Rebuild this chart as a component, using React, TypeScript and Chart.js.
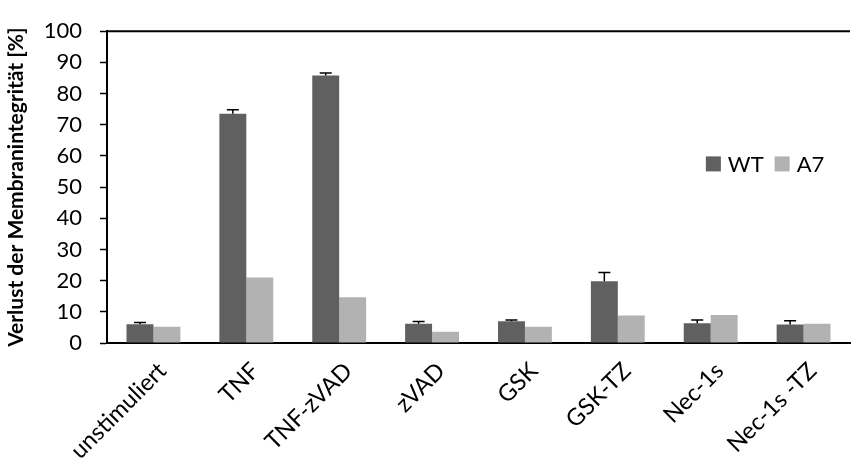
import React, { useEffect, useRef } from "react";
import { Chart, registerables } from "chart.js";

Chart.register(...registerables);

const categories = ["unstimuliert", "TNF", "TNF-zVAD", "zVAD", "GSK", "GSK-TZ", "Nec-1s", "Nec-1s -TZ"];
const wtValues = [6.0, 73.5, 85.8, 6.2, 7.0, 19.8, 6.3, 5.9];
const wtErrors = [0.6, 1.3, 0.8, 0.7, 0.4, 2.8, 1.1, 1.2];
const a7Values = [5.2, 21.0, 14.7, 3.6, 5.2, 8.8, 9.0, 6.2];
const seriesLabels = ["WT", "A7"];
const seriesColors = ["#606060", "#b2b2b2"];
const yTicks = [0, 10, 20, 30, 40, 50, 60, 70, 80, 90, 100];

const FONT = "Lato, 'Open Sans', sans-serif";

const errorBarPlugin = {
  id: "errorBars",
  afterDatasetsDraw(chart: any) {
    const ctx = chart.ctx;
    const meta = chart.getDatasetMeta(0);
    const y = chart.scales.y;
    ctx.save();
    ctx.strokeStyle = "#000";
    ctx.lineWidth = 1.5;
    meta.data.forEach((bar: any, i: number) => {
      const top = y.getPixelForValue(wtValues[i] + wtErrors[i]);
      ctx.beginPath();
      ctx.moveTo(bar.x, bar.y);
      ctx.lineTo(bar.x, top);
      ctx.moveTo(bar.x - 6, top);
      ctx.lineTo(bar.x + 6, top);
      ctx.stroke();
    });
    ctx.restore();
  },
};

const frameLegendPlugin = {
  id: "frameLegend",
  afterDraw(chart: any) {
    const ctx = chart.ctx;
    const a = chart.chartArea;
    ctx.save();
    // top border
    ctx.strokeStyle = "#000";
    ctx.lineWidth = 2;
    ctx.beginPath();
    ctx.moveTo(a.left - 1, a.top);
    ctx.lineTo(a.right, a.top);
    ctx.stroke();
    // legend
    const lx = a.left + 0.806 * (a.right - a.left);
    const ly = a.top + 0.4256 * (a.bottom - a.top);
    ctx.font = `22px ${FONT}`;
    ctx.textBaseline = "middle";
    ctx.textAlign = "left";
    let x = lx;
    chart.data.datasets.forEach((ds: any) => {
      ctx.fillStyle = ds.backgroundColor;
      ctx.fillRect(x, ly - 7.5, 15, 15);
      ctx.fillStyle = "#000";
      ctx.fillText(ds.label, x + 22, ly + 1);
      x += 22 + ctx.measureText(ds.label).width + 11;
    });
    ctx.restore();
  },
};

export default function App() {
  const ref = useRef<HTMLCanvasElement>(null);
  useEffect(() => {
    if (!ref.current) return;
    const chart = new Chart(ref.current, {
      type: "bar",
      data: {
        labels: categories,
        datasets: [
          { label: seriesLabels[0], data: wtValues, backgroundColor: seriesColors[0] },
          { label: seriesLabels[1], data: a7Values, backgroundColor: seriesColors[1] },
        ],
      },
      options: {
        animation: false,
        responsive: true,
        maintainAspectRatio: false,
        layout: { padding: { left: 0, right: 8, top: 27, bottom: 0 } },
        datasets: { bar: { categoryPercentage: 0.58, barPercentage: 1 } },
        plugins: { legend: { display: false }, tooltip: { enabled: false } },
        scales: {
          x: {
            grid: { display: false },
            border: { display: true, color: "#000", width: 2 },
            ticks: {
              color: "#000",
              font: { family: FONT, size: 23.5 },
              minRotation: 45,
              maxRotation: 45,
              padding: 6,
              labelOffset: 9,
              autoSkip: false,
            },
            afterFit(scale: any) {
              scale.height = 127;
            },
          },
          y: {
            min: 0,
            max: 100,
            afterBuildTicks(scale: any) {
              scale.ticks = yTicks.map((v) => ({ value: v }));
            },
            grid: {
              drawOnChartArea: false,
              drawTicks: true,
              tickLength: 7,
              tickWidth: 1.5,
              tickColor: "#000",
            },
            border: { display: true, color: "#000", width: 2 },
            ticks: {
              color: "#000",
              font: { family: FONT, size: 22 },
              padding: 18,
            },
            title: {
              display: true,
              text: "Verlust der Membranintegrität [%]",
              color: "#000",
              font: { family: FONT, size: 21, weight: "bold" },
              padding: { top: 4, bottom: 0 },
            },
            afterFit(scale: any) {
              scale.width = 107;
            },
          },
        },
      },
      plugins: [errorBarPlugin, frameLegendPlugin],
    });
    return () => chart.destroy();
  }, []);
  return (
    <div style={{ position: "fixed", left: 0, top: 0, width: 858, height: 470, background: "#fff" }}>
      <canvas ref={ref} />
    </div>
  );
}
